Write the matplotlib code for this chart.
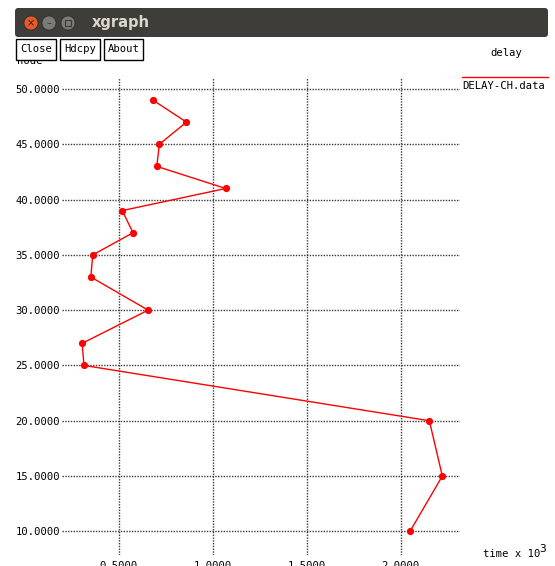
import matplotlib
matplotlib.use("Agg")
import matplotlib.pyplot as plt
from matplotlib.patches import Rectangle, FancyBboxPatch

# ---- data ----
time_k = [0.681, 0.860, 0.716, 0.702, 1.069, 0.518, 0.576, 0.362, 0.351,
          0.656, 0.305, 0.315, 2.152, 2.221, 2.049]
node = [49, 47, 45, 43, 41, 39, 37, 35, 33, 30, 27, 25, 20, 15, 10]
x_ticks = [0.5, 1.0, 1.5, 2.0]
y_ticks = [10, 15, 20, 25, 30, 35, 40, 45, 50]
series_name = "DELAY-CH.data"
window_title = "xgraph"
buttons = ["Close", "Hdcpy", "About"]

W, H = 555, 566
fig = plt.figure(figsize=(W / 100, H / 100), dpi=100)
fig.patch.set_facecolor("white")

def fx(px):
    return px / W

def fy(py):
    return 1 - py / H

MONO = "DejaVu Sans Mono"
FS = 7.6

# ---- plot axes ----
left_px, right_px, top_px, bot_px = 62, 460, 78, 555
ax = fig.add_axes([fx(left_px), fy(bot_px), fx(right_px) - fx(left_px),
                   fy(top_px) - fy(bot_px)])
ax.set_xlim(0.198, 2.315)
ax.set_ylim(7.86, 50.99)
for s in ax.spines.values():
    s.set_visible(False)
ax.set_facecolor("white")
for xv in x_ticks:
    ax.axvline(xv, color="#3a3a3a", lw=1.0, ls=(0, (1, 1)), zorder=1)
for yv in y_ticks:
    ax.axhline(yv, color="#3a3a3a", lw=1.0, ls=(0, (1, 1)), zorder=1)
ax.set_xticks(x_ticks)
ax.set_xticklabels([f"{v:.4f}" for v in x_ticks], family=MONO, fontsize=FS)
ax.set_yticks(y_ticks)
ax.set_yticklabels([f"{v:.4f}" for v in y_ticks], family=MONO, fontsize=FS)
ax.tick_params(length=0, pad=1.5)
ax.tick_params(axis="x", pad=4)
ax.plot(time_k, node, color="#ff0000", lw=1.0, marker="o", ms=5.2,
        markeredgewidth=0, zorder=3, clip_on=False)

# ---- title bar ----
bar = FancyBboxPatch((fx(15), fy(37)), fx(548) - fx(15), fy(8) - fy(37),
                     boxstyle="round,pad=0,rounding_size=0.006",
                     transform=fig.transFigure, facecolor="#3e3d39",
                     edgecolor="none", zorder=5)
fig.patches.append(bar)
for cx, col in [(31, "#e65a2a"), (49, "#7b7a75"), (68, "#7b7a75")]:
    c = matplotlib.patches.Ellipse((fx(cx), fy(23)), 14 / W, 14 / H,
                                   transform=fig.transFigure, facecolor=col,
                                   edgecolor="#2e2d2a", lw=0.5, zorder=6)
    fig.patches.append(c)
fig.text(fx(31), fy(23.5), "×", color="#3a1a10", fontsize=7, ha="center",
         va="center", zorder=7)
fig.text(fx(49), fy(23.5), "–", color="#3a3936", fontsize=7, ha="center",
         va="center", zorder=7)
sq = Rectangle((fx(65), fy(26)), 6 / W, 6 / H, transform=fig.transFigure,
               facecolor="none", edgecolor="#3a3936", lw=0.8, zorder=7)
fig.patches.append(sq)
fig.text(fx(92), fy(23), window_title, color="#dcd8ce", fontsize=10.5,
         fontweight="bold", family="DejaVu Sans", ha="left", va="center",
         zorder=7)

# ---- y axis name (partly hidden by buttons) ----
fig.text(fx(17), fy(61), "node", family=MONO, fontsize=FS, ha="left",
         va="center", zorder=2)

# ---- buttons ----
for label, (x0, x1) in zip(buttons, [(16, 56), (60, 100), (104, 143)]):
    r = Rectangle((fx(x0), fy(60)), fx(x1) - fx(x0), fy(39) - fy(60),
                  transform=fig.transFigure, facecolor="white",
                  edgecolor="black", lw=1.0, zorder=5)
    fig.patches.append(r)
    fig.text(fx((x0 + x1) / 2), fy(49.5), label, family=MONO, fontsize=FS,
             ha="center", va="center", zorder=6)

# ---- legend / titles ----
fig.text(fx(506), fy(53), "delay", family=MONO, fontsize=FS, ha="center",
         va="center")
fig.lines.append(matplotlib.lines.Line2D([fx(462), fx(548)], [fy(77), fy(77)],
                                         transform=fig.transFigure,
                                         color="#ff0000", lw=1.0))
fig.text(fx(462), fy(86), series_name, family=MONO, fontsize=FS, ha="left",
         va="center")
fig.text(fx(483), fy(554), "time x 10", family=MONO, fontsize=FS, ha="left",
         va="center")
fig.text(fx(539), fy(549), "3", family=MONO, fontsize=FS + 0.6, ha="left",
         va="center")

fig.savefig("out.png", dpi=100)
